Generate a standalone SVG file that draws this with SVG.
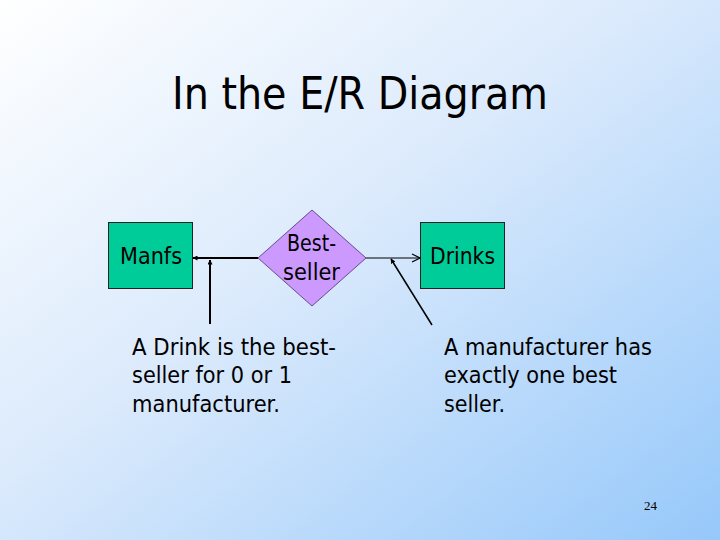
<svg xmlns="http://www.w3.org/2000/svg" width="720" height="540" viewBox="0 0 720 540">
<defs>
<linearGradient id="bg" x1="0" y1="0" x2="1" y2="1">
<stop offset="0" stop-color="#ffffff"/>
<stop offset="0.45" stop-color="#dbeafc"/>
<stop offset="1" stop-color="#96c8fa"/>
</linearGradient>
<marker id="fill" viewBox="0 0 10 10" refX="9" refY="5" markerWidth="5" markerHeight="5" markerUnits="userSpaceOnUse" orient="auto">
<path d="M0,0 L10,5 L0,10 z" fill="#000"/>
</marker>
<marker id="open" viewBox="0 0 10 10" refX="9" refY="5" markerWidth="10" markerHeight="10" markerUnits="userSpaceOnUse" orient="auto">
<path d="M1,1 L9,5 L1,9" fill="none" stroke="#000" stroke-width="1.2"/>
</marker>
<style>
.ent{fill:#00cc99;stroke:#222;stroke-width:1}
.rel{fill:#cc99ff;stroke:#6a4a8a;stroke-width:1}
.t{font-family:"DejaVu Sans",Tahoma,Verdana,sans-serif;font-size:22.5px;fill:#000}
.title{font-family:"DejaVu Sans",Tahoma,Verdana,sans-serif;font-size:44.5px;fill:#000}
</style>
</defs>
<rect width="720" height="540" fill="url(#bg)"/>
<text class="title" x="172" y="109" textLength="376" lengthAdjust="spacingAndGlyphs">In the E/R Diagram</text>
<g id="manfs">
<rect class="ent" x="108.5" y="222.5" width="84" height="66"/>
<text class="t" x="120" y="264" textLength="62" lengthAdjust="spacingAndGlyphs">Manfs</text>
</g>
<g id="bestseller">
<polygon class="rel" points="312,210 366,258 312,306 258,258"/>
<text class="t" x="287" y="251" textLength="49" lengthAdjust="spacingAndGlyphs">Best-</text>
<text class="t" x="283" y="280" textLength="57" lengthAdjust="spacingAndGlyphs">seller</text>
</g>
<g id="drinks">
<rect class="ent" x="420.5" y="222.5" width="84" height="66"/>
<text class="t" x="430" y="264" textLength="65" lengthAdjust="spacingAndGlyphs">Drinks</text>
</g>
<g id="connectors" stroke="#000" fill="none">
<line x1="258" y1="258" x2="193" y2="258" stroke-width="2" marker-end="url(#fill)"/>
<line x1="210" y1="324" x2="210" y2="260" stroke-width="2" marker-end="url(#fill)"/>
<line x1="366" y1="258" x2="420" y2="258" stroke-width="1" marker-end="url(#open)"/>
<line x1="432" y1="325" x2="391" y2="259" stroke-width="1.5" marker-end="url(#fill)"/>
</g>
<g id="notes">
<text class="t" x="132" y="355" textLength="204" lengthAdjust="spacingAndGlyphs">A Drink is the best-</text>
<text class="t" x="132" y="383" textLength="160" lengthAdjust="spacingAndGlyphs">seller for 0 or 1</text>
<text class="t" x="132" y="412" textLength="148" lengthAdjust="spacingAndGlyphs">manufacturer.</text>
<text class="t" x="444" y="355" textLength="208" lengthAdjust="spacingAndGlyphs">A manufacturer has</text>
<text class="t" x="444" y="383" textLength="173" lengthAdjust="spacingAndGlyphs">exactly one best</text>
<text class="t" x="444" y="412" textLength="61" lengthAdjust="spacingAndGlyphs">seller.</text>
</g>
<text x="644" y="510" font-family="'Liberation Serif',serif" font-size="13" fill="#000">24</text>
</svg>
